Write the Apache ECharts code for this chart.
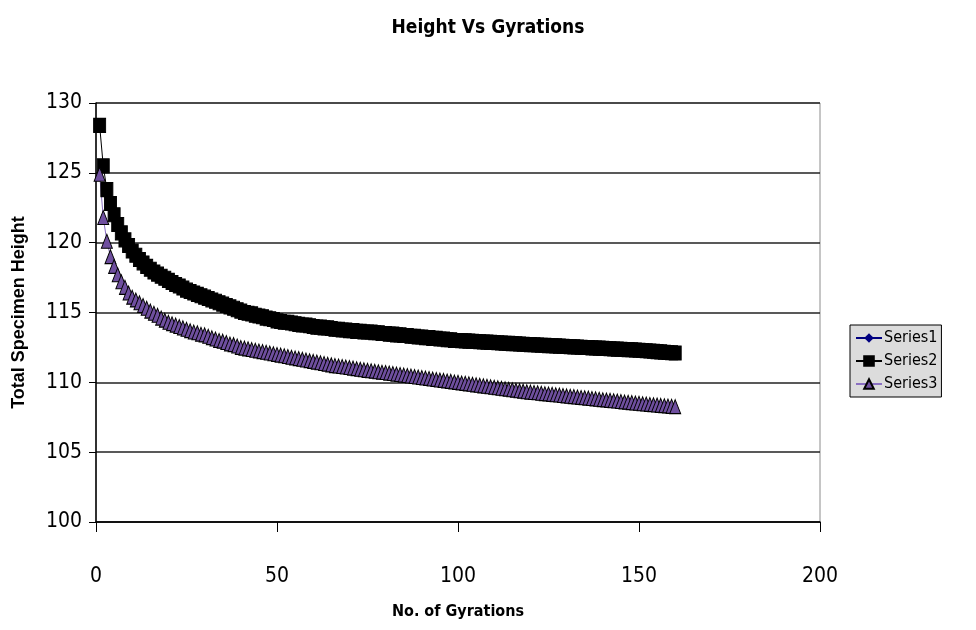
<!DOCTYPE html>
<html>
<head>
<meta charset="utf-8">
<script src="https://cdn.jsdelivr.net/npm/echarts@6/dist/echarts.min.js"></script>
<style>
  html, body { margin: 0; padding: 0; background: #fff; }
  #chart { width: 976px; height: 630px; }
</style>
</head>
<body>
<div id="chart"></div>
<script>
// gyration counts 1..160
var gyrations = Array.from({ length: 160 }, function (_, i) { return i + 1; });

var series1 = [];

var series2 = [
  128.4, 125.5, 123.8, 122.8, 122.0, 121.3, 120.7, 120.2, 119.8, 119.4,
  119.1, 118.8, 118.55, 118.3, 118.1, 117.9, 117.75, 117.6, 117.45, 117.3,
  117.15, 117.0, 116.9, 116.75, 116.6, 116.5, 116.4, 116.3, 116.2, 116.1,
  116.0, 115.9, 115.8, 115.7, 115.6, 115.5, 115.4, 115.3, 115.2, 115.1,
  115.0, 114.95, 114.9, 114.8, 114.75, 114.7, 114.6, 114.55, 114.5, 114.4,
  114.35, 114.3, 114.3, 114.25, 114.2, 114.15, 114.1, 114.1, 114.05, 114.0,
  113.95, 113.95, 113.9, 113.9, 113.85, 113.8, 113.8, 113.75, 113.75, 113.7,
  113.7, 113.65, 113.65, 113.6, 113.6, 113.6, 113.55, 113.55, 113.5, 113.5,
  113.45, 113.45, 113.4, 113.4, 113.35, 113.35, 113.3, 113.3, 113.25, 113.25,
  113.2, 113.2, 113.15, 113.15, 113.1, 113.1, 113.05, 113.05, 113.0, 113.0,
  112.98, 112.97, 112.95, 112.94, 112.92, 112.91, 112.89, 112.88, 112.86, 112.85,
  112.83, 112.82, 112.8, 112.79, 112.77, 112.76, 112.74, 112.73, 112.71, 112.7,
  112.69, 112.67, 112.66, 112.65, 112.63, 112.62, 112.61, 112.59, 112.58, 112.57,
  112.55, 112.54, 112.53, 112.51, 112.5, 112.49, 112.47, 112.46, 112.45, 112.43,
  112.42, 112.41, 112.39, 112.38, 112.37, 112.35, 112.34, 112.33, 112.31, 112.3,
  112.28, 112.26, 112.24, 112.22, 112.2, 112.18, 112.16, 112.14, 112.12, 112.1
];

var series3 = [
  124.9, 121.8, 120.1, 119.0, 118.3, 117.7, 117.2, 116.8, 116.4, 116.1,
  115.9, 115.7, 115.5, 115.3, 115.1, 114.95, 114.8, 114.6, 114.45, 114.3,
  114.2, 114.1, 114.0, 113.9, 113.8, 113.7, 113.6, 113.55, 113.45, 113.4,
  113.3, 113.2, 113.1, 113.0, 112.95, 112.85, 112.75, 112.7, 112.6, 112.5,
  112.45, 112.4, 112.35, 112.3, 112.25, 112.2, 112.15, 112.1, 112.05, 112.0,
  111.95, 111.9, 111.85, 111.8, 111.75, 111.7, 111.65, 111.6, 111.55, 111.5,
  111.45, 111.4, 111.35, 111.3, 111.25, 111.2, 111.17, 111.13, 111.1, 111.06,
  111.02, 110.98, 110.94, 110.9, 110.86, 110.83, 110.8, 110.76, 110.73, 110.7,
  110.66, 110.63, 110.59, 110.56, 110.52, 110.49, 110.45, 110.42, 110.38, 110.35,
  110.31, 110.28, 110.24, 110.21, 110.17, 110.14, 110.1, 110.07, 110.03, 110.0,
  109.96, 109.93, 109.89, 109.86, 109.82, 109.79, 109.75, 109.72, 109.68, 109.65,
  109.61, 109.58, 109.54, 109.51, 109.47, 109.44, 109.4, 109.37, 109.33, 109.3,
  109.27, 109.25, 109.22, 109.19, 109.17, 109.14, 109.11, 109.09, 109.06, 109.03,
  109.0, 108.98, 108.95, 108.92, 108.9, 108.87, 108.84, 108.82, 108.79, 108.76,
  108.74, 108.71, 108.68, 108.66, 108.63, 108.6, 108.58, 108.55, 108.52, 108.5,
  108.47, 108.45, 108.42, 108.4, 108.38, 108.35, 108.33, 108.31, 108.28, 108.26
];

var seriesNames = ['Series1', 'Series2', 'Series3'];

function pairs(vals) {
  return vals.map(function (v, i) { return [gyrations[i], v]; });
}

var narrow = '"DejaVu Sans Condensed", "Liberation Sans Narrow", sans-serif';

var myChart = echarts.init(document.getElementById('chart'));
var option = {
  animation: false,
  title: {
    text: 'Height Vs Gyrations',
    left: 'center',
    top: 14,
    textStyle: { fontFamily: narrow, fontSize: 19, fontWeight: 'bold', color: '#000' }
  },
  legend: {
    orient: 'vertical',
    left: 850,
    top: 325,
    data: seriesNames,
    backgroundColor: '#dcdcdc',
    borderColor: '#000',
    borderWidth: 1,
    borderRadius: 0,
    padding: [5, 4, 5, 5],
    itemGap: 7,
    itemWidth: 26,
    itemHeight: 12,
    textStyle: { fontFamily: narrow, fontSize: 16, color: '#000', padding: [0, 0, 0, -3] }
  },
  grid: {
    left: 96,
    right: 156,
    top: 103,
    bottom: 108,
    show: true,
    borderColor: '#8c8c8c',
    borderWidth: 1
  },
  xAxis: {
    type: 'value',
    min: 0,
    max: 200,
    interval: 50,
    name: 'No. of Gyrations',
    nameLocation: 'middle',
    nameGap: 82,
    nameTextStyle: { fontFamily: narrow, fontSize: 16, fontWeight: 'bold', color: '#000' },
    axisLine: { show: true, lineStyle: { color: '#000', width: 1.5 } },
    axisTick: { show: true, length: 10, lineStyle: { color: '#000' } },
    axisLabel: { fontFamily: narrow, fontSize: 21, color: '#000', margin: 44 },
    splitLine: { show: false }
  },
  yAxis: {
    type: 'value',
    min: 100,
    max: 130,
    interval: 5,
    name: 'Total Specimen Height',
    nameLocation: 'middle',
    nameGap: 68,
    nameRotate: 90,
    nameTextStyle: { fontFamily: '"Liberation Sans", Arial, sans-serif', fontSize: 18, fontWeight: 'bold', color: '#000' },
    axisLine: { show: true, lineStyle: { color: '#000', width: 1.5 } },
    axisTick: { show: true, length: 7, lineStyle: { color: '#000' } },
    axisLabel: { fontFamily: narrow, fontSize: 21, color: '#000', margin: 14 },
    splitLine: { show: true, lineStyle: { color: '#222', width: 1.5 } }
  },
  series: [
    {
      name: seriesNames[0],
      type: 'line',
      data: pairs(series1),
      symbol: 'diamond',
      symbolSize: [11, 13],
      itemStyle: { color: '#000080' },
      lineStyle: { color: '#000080', width: 1 }
    },
    {
      name: seriesNames[1],
      type: 'line',
      data: pairs(series2),
      symbol: 'rect',
      symbolSize: [12, 14],
      itemStyle: { color: '#000', borderColor: '#000', borderWidth: 1 },
      lineStyle: { color: '#000', width: 1 }
    },
    {
      name: seriesNames[2],
      type: 'line',
      data: pairs(series3),
      symbol: 'triangle',
      symbolSize: [11, 14],
      itemStyle: { color: '#6f4f9f', borderColor: '#000', borderWidth: 1 },
      lineStyle: { color: '#8a6fc2', width: 1 }
    }
  ]
};
myChart.setOption(option);
</script>
</body>
</html>
